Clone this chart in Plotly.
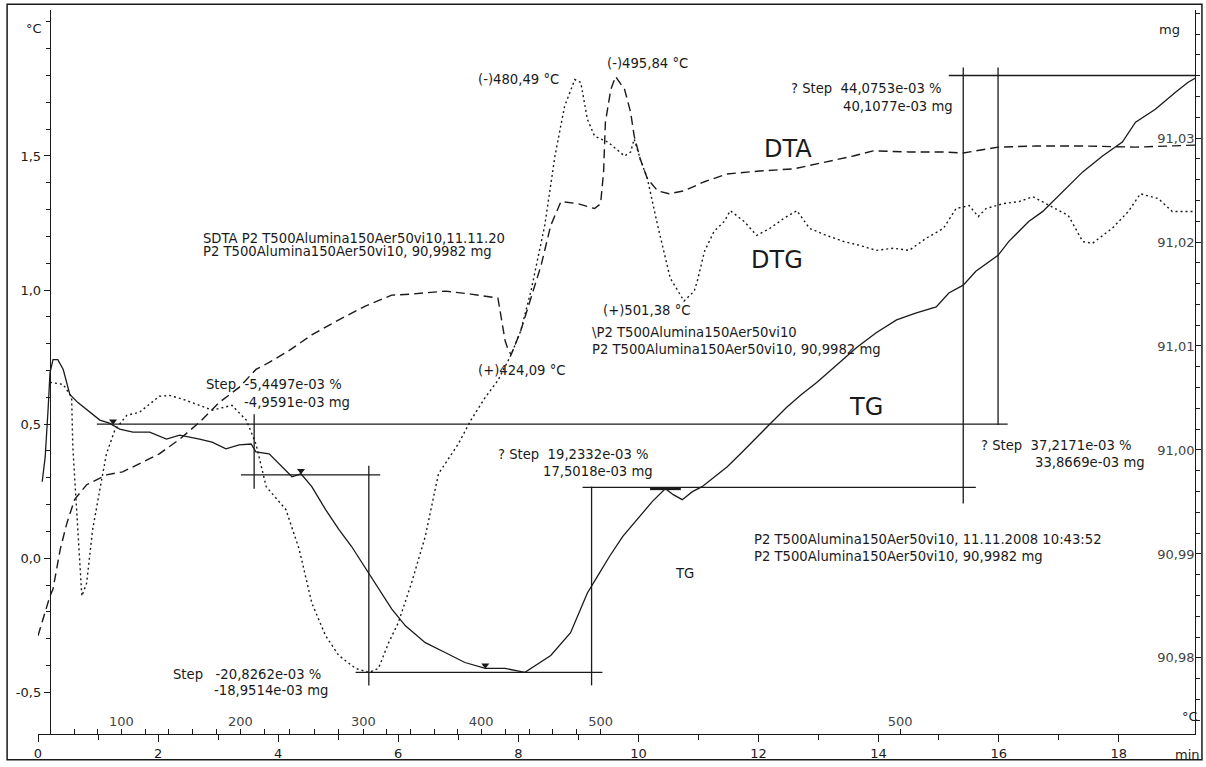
import plotly.graph_objects as go

# ---------------- data (time in min) ----------------
tg_time = [0.07,0.12,0.17,0.20,0.25,0.33,0.42,0.53,0.66,0.81,1.03,1.19,1.36,1.58,1.86,2.14,2.36,2.69,2.90,3.13,
           3.35,3.55,3.63,3.85,4.01,4.23,4.38,4.56,4.79,5.01,5.22,5.46,5.67,5.89,6.12,6.45,6.78,7.11,7.45,7.78,
           8.11,8.28,8.54,8.87,9.15,9.32,9.52,9.74,9.98,10.23,10.45,10.58,10.73,10.90,11.06,11.23,11.48,11.73,11.97,12.22,
           12.47,12.72,12.97,13.30,13.63,13.96,14.30,14.63,14.96,15.17,15.41,15.62,15.99,16.17,16.50,16.73,17.07,17.40,17.73,18.06,
           18.28,18.61,18.94,19.15,19.32]
tg_mg = [90.99694,90.99933,91.00411,91.00745,91.00869,91.00869,91.00774,91.00535,91.00458,91.00392,91.00287,91.00258,91.00201,91.00172,91.00172,91.00105,91.00143,91.00105,91.00076,91.00010,
         91.00048,91.00057,90.99981,90.99962,90.99866,90.99742,90.99771,90.99647,90.99427,90.99236,90.99074,90.98854,90.98663,90.98472,90.98309,90.98147,90.98052,90.97956,90.97899,90.97899,
         90.97861,90.97927,90.98023,90.98243,90.98625,90.98787,90.98978,90.99169,90.99331,90.99503,90.99628,90.99570,90.99522,90.99599,90.99647,90.99723,90.99838,90.99981,91.00124,91.00267,
         91.00411,91.00535,91.00649,91.00812,91.00984,91.01127,91.01251,91.01318,91.01375,91.01509,91.01585,91.01719,91.01872,91.02006,91.02197,91.02292,91.02483,91.02674,91.02827,91.02961,
         91.03152,91.03276,91.03438,91.03534,91.03591]

dta_time = [0.00,0.12,0.20,0.25,0.37,0.48,0.61,0.81,1.14,1.41,1.69,2.02,2.36,2.69,3.02,3.35,3.63,3.85,4.18,4.56,
            5.01,5.46,5.89,6.22,6.78,7.21,7.66,7.71,7.78,7.83,7.88,8.04,8.21,8.38,8.54,8.71,8.99,9.27,9.37,9.42,
            9.45,9.54,9.62,9.77,9.87,9.93,10.03,10.15,10.32,10.51,10.76,11.10,11.48,12.02,12.59,13.13,13.58,13.91,14.51,15.08,
            15.41,15.99,16.62,17.45,18.28,18.82,19.32]
dta_c = [-0.289,-0.196,-0.141,-0.115,0.033,0.130,0.219,0.274,0.311,0.322,0.352,0.389,0.444,0.507,0.581,0.637,0.704,0.730,0.774,0.833,
         0.889,0.941,0.981,0.985,0.996,0.985,0.970,0.904,0.811,0.778,0.759,0.848,0.970,1.093,1.241,1.330,1.322,1.304,1.322,1.441,
         1.626,1.748,1.796,1.748,1.663,1.574,1.489,1.415,1.370,1.359,1.370,1.404,1.433,1.444,1.452,1.478,1.500,1.519,1.515,1.515,
         1.511,1.533,1.537,1.537,1.533,1.537,1.541]

dtg_time = [0.20,0.42,0.56,0.58,0.63,0.66,0.73,0.81,0.91,1.03,1.14,1.28,1.48,1.69,1.86,2.02,2.19,2.41,2.69,2.90,
            3.23,3.47,3.63,3.80,4.13,4.35,4.56,4.79,5.01,5.29,5.51,5.67,5.84,6.00,6.22,6.45,6.67,7.00,7.21,7.45,
            7.66,7.88,8.04,8.21,8.44,8.61,8.77,8.94,9.04,9.15,9.27,9.49,9.77,9.87,9.93,10.03,10.15,10.32,10.53,10.76,
            10.93,10.98,11.10,11.26,11.43,11.53,11.76,11.97,12.19,12.42,12.64,12.85,13.13,13.42,13.68,13.96,14.25,14.51,14.79,15.08,
            15.29,15.51,15.66,15.79,16.07,16.34,16.57,16.78,17.16,17.40,17.56,17.89,18.16,18.36,18.66,18.89,19.32]
dtg_val = [0.656,0.648,0.600,0.415,0.230,0.107,-0.141,-0.093,0.107,0.256,0.389,0.478,0.533,0.544,0.574,0.604,0.607,0.593,0.570,0.552,
           0.570,0.515,0.426,0.267,0.181,0.033,-0.167,-0.289,-0.363,-0.411,-0.426,-0.411,-0.315,-0.241,-0.093,0.081,0.315,0.426,0.515,0.600,
           0.663,0.759,0.848,0.996,1.241,1.500,1.685,1.785,1.774,1.637,1.574,1.552,1.500,1.515,1.563,1.489,1.415,1.241,1.044,0.959,
           0.996,1.033,1.144,1.219,1.256,1.296,1.256,1.204,1.230,1.267,1.296,1.230,1.204,1.181,1.167,1.148,1.156,1.148,1.193,1.230,
           1.304,1.315,1.274,1.304,1.322,1.330,1.348,1.322,1.278,1.181,1.174,1.230,1.293,1.359,1.341,1.293,1.293]

# TG step evaluation construction lines (min, mg); None separates segments
step_time = [0.98,16.15,None, 3.60,3.60,None, 3.38,5.70,None, 5.51,5.51,None, 5.29,9.40,None,
             9.22,9.22,None, 9.07,15.62,None, 15.41,15.41,None, 15.99,15.99,None, 15.17,19.37]
step_mg = [91.00248,91.00248,None, 91.00344,90.99627,None, 90.99761,90.99761,None, 90.99847,90.97736,None, 90.97861,90.97861,None,
           90.99647,90.97736,None, 90.99640,90.99640,None, 91.03677,90.99484,None, 91.03677,91.00239,None, 91.03601,91.03601]

# evaluation markers on TG
mark_time = [1.25, 4.38, 7.45]
mark_mg = [91.00275, 90.99800, 90.97930]
cross_time = [10.45]
cross_mg = [90.99628]

# axes ticks
time_ticks = list(range(0, 20, 2))
time_labels = [str(v) for v in time_ticks]
temp_tick_time = [0.60,0.99,1.39,1.79,2.18,2.58,2.97,3.37,3.78,4.19,4.60,5.01,5.42,5.81,6.20,6.60,6.99,7.38,
                  7.78,8.18,8.57,8.97,9.37,14.36]
temp_labels = ["","","100","","","","","200","","","","","300","","","","","400","","","","","500","500"]
left_ticks = [-0.5, 0.0, 0.5, 1.0, 1.5]
left_labels = ["-0,5", "0,0", "0,5", "1,0", "1,5"]
right_ticks = [90.98, 90.99, 91.00, 91.01, 91.02, 91.03]
right_labels = ["90,98", "90,99", "91,00", "91,01", "91,02", "91,03"]

INK = "#1a1a1a"
FONT = "DejaVu Sans"
FS = 13.2

fig = go.Figure()
fig.add_trace(go.Scatter(x=dta_time, y=dta_c, mode="lines", yaxis="y",
                         line=dict(color=INK, width=1.4, dash="9px,5px"), hoverinfo="skip"))
fig.add_trace(go.Scatter(x=dtg_time, y=dtg_val, mode="lines", yaxis="y",
                         line=dict(color=INK, width=1.4, dash="2px,3px"), hoverinfo="skip"))
fig.add_trace(go.Scatter(x=step_time, y=step_mg, mode="lines", yaxis="y2", connectgaps=False,
                         line=dict(color=INK, width=1.3), hoverinfo="skip"))
fig.add_trace(go.Scatter(x=tg_time, y=tg_mg, mode="lines", yaxis="y2",
                         line=dict(color=INK, width=1.3), hoverinfo="skip"))
fig.add_trace(go.Scatter(x=mark_time, y=mark_mg, mode="markers", yaxis="y2",
                         marker=dict(symbol="triangle-down", size=7, color=INK), hoverinfo="skip"))
fig.add_trace(go.Scatter(x=cross_time, y=cross_mg, mode="markers", yaxis="y2",
                         marker=dict(symbol="line-ew", size=22, line=dict(width=3, color=INK)), hoverinfo="skip"))
fig.add_trace(go.Scatter(x=[0, 19.27], y=[None, None], xaxis="x2", yaxis="y", mode="lines",
                         showlegend=False, hoverinfo="skip"))

X_RANGE = [0, 19.27]

fig.update_layout(
    width=1206, height=767,
    margin=dict(l=38, r=6, t=10, b=28),
    paper_bgcolor="white", plot_bgcolor="white",
    showlegend=False,
    font=dict(family=FONT, size=FS, color=INK),
    xaxis=dict(range=X_RANGE, showgrid=False, zeroline=False, showline=True, linecolor=INK, linewidth=1.3,
               ticks="outside", ticklen=7, tickcolor=INK, tickvals=time_ticks, ticktext=time_labels,
               tickfont=dict(size=13, family=FONT),
               minor=dict(dtick=1, tick0=0, ticks="outside", ticklen=5, tickcolor=INK)),
    xaxis2=dict(range=X_RANGE, overlaying="x", anchor="y", side="bottom", showgrid=False, zeroline=False,
                showline=False, ticks="inside", ticklen=5, tickcolor=INK, tickvals=temp_tick_time,
                ticktext=temp_labels, ticklabelposition="inside", tickfont=dict(size=13, family=FONT)),
    yaxis=dict(range=[-0.6556, 2.0444], anchor="free", position=0.0103, showgrid=False, zeroline=False,
               showline=True, linecolor=INK, linewidth=1.3, ticks="outside", ticklen=6, tickcolor=INK,
               tickvals=left_ticks, ticktext=left_labels, tickfont=dict(size=13, family=FONT),
               minor=dict(dtick=0.1, tick0=0, ticks="outside", ticklen=4, tickcolor=INK)),
    yaxis2=dict(range=[90.972684, 91.042311], overlaying="y", side="right", anchor="x", showgrid=False,
                zeroline=False, showline=True, linecolor=INK, linewidth=1.3, ticks="outside", ticklen=5,
                tickcolor=INK, tickvals=right_ticks, ticktext=right_labels, ticklabelposition="inside",
                tickfont=dict(size=13, family=FONT),
                minor=dict(dtick=0.002, tick0=91.0, ticks="outside", ticklen=4, tickcolor=INK)),
)

def txt(x, y, s, size=FS, xanchor="left", xref="x", yref="y"):
    fig.add_annotation(x=x, y=y, text=s, showarrow=False, xref=xref, yref=yref, xanchor=xanchor,
                       yanchor="middle", font=dict(size=size, family=FONT, color=INK))

txt(2.72, 1.193, "SDTA P2 T500Alumina150Aer50vi10,11.11.20")
txt(2.72, 1.144, "P2 T500Alumina150Aer50vi10, 90,9982 mg")
txt(2.77, 0.648, "Step  -5,4497e-03 %")
txt(3.40, 0.581, "-4,9591e-03 mg")
txt(7.30, 0.700, "(+)424,09 °C")
txt(7.30, 1.785, "(-)480,49 °C")
txt(9.44, 1.844, "(-)495,84 °C")
txt(12.50, 1.752, "? Step  44,0753e-03 %")
txt(13.38, 1.685, "40,1077e-03 mg")
txt(12.06, 1.526, "DTA", size=24)
txt(11.84, 1.111, "DTG", size=24)
txt(9.37, 0.922, "(+)501,38 °C")
txt(9.19, 0.841, "\\P2 T500Alumina150Aer50vi10")
txt(9.19, 0.778, "P2 T500Alumina150Aer50vi10, 90,9982 mg")
txt(13.47, 0.563, "TG", size=24)
txt(7.63, 0.385, "? Step  19,2332e-03 %")
txt(8.37, 0.322, "17,5018e-03 mg")
txt(15.67, 0.422, "? Step  37,2171e-03 %")
txt(16.57, 0.356, "33,8669e-03 mg")
txt(11.89, 0.070, "P2 T500Alumina150Aer50vi10, 11.11.2008 10:43:52")
txt(11.89, 0.007, "P2 T500Alumina150Aer50vi10, 90,9982 mg")
txt(10.58, -0.056, "TG")
txt(2.22, -0.433, "Step   -20,8262e-03 %")
txt(2.90, -0.493, "-18,9514e-03 mg")
txt(0.0052, 0.975, "°C", size=13, xanchor="right", xref="paper", yref="paper")
txt(0.978, 0.973, "mg", size=13, xanchor="center", xref="paper", yref="paper")
txt(0.9935, -0.0288, "min", size=13, xanchor="center", xref="paper", yref="paper")
txt(0.9955, 0.0247, "°C", size=13, xanchor="center", xref="paper", yref="paper")

# outer frame of the scanned page
fig.add_shape(type="rect", xref="paper", yref="paper", x0=-0.0267, x1=1.006, y0=-0.0357, y1=1.008,
              line=dict(color=INK, width=1.5), fillcolor="rgba(0,0,0,0)", layer="above")

fig.write_html("out.html", config={"displayModeBar": False},
               post_script="document.body.style.margin='0';document.body.style.overflow='hidden';")
